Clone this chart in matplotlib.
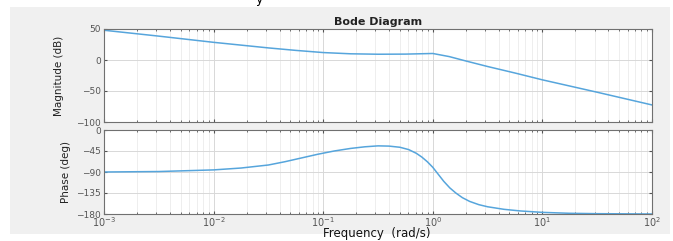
import matplotlib.pyplot as plt
from matplotlib.patches import Rectangle
from matplotlib.ticker import LogLocator, NullFormatter, FixedLocator
import numpy as np

# values (log10 of frequency in rad/s)
mag_logw = [-3, -2.5, -2, -1.5, -1.25, -1, -0.75, -0.5, -0.25, 0,
            0.15, 0.3, 0.5, 0.75, 1, 1.5, 2]
mag_db = [48, 38.5, 28.5, 19.5, 15.5, 12, 10, 9.3, 9.5, 10.5,
          5.5, -1.5, -10.5, -21, -32, -52, -72.5]

ph_logw = [-3, -2.5, -2, -1.75, -1.5, -1.35, -1.2, -1.05, -0.9, -0.75, -0.62,
           -0.5, -0.4, -0.3, -0.22, -0.15, -0.1, -0.05, 0, 0.05, 0.1, 0.155,
           0.21, 0.27, 0.336, 0.42, 0.5, 0.65, 0.8, 1, 1.25, 1.5, 2]
ph_deg = [-90, -89, -85.5, -81.5, -75, -68, -60, -52, -45, -39.5, -36,
          -34, -34.5, -37, -42, -50, -58, -68, -80, -95, -110, -124,
          -135, -145, -153, -160, -164.5, -170, -173.5, -176.5, -178.5, -179.3, -180]

mag_ticks = [50, 0, -50, -100]
ph_ticks = [0, -45, -90, -135, -180]
x_ticks = [1e-3, 1e-2, 1e-1, 1e0, 1e1, 1e2]
x_labels = [r'$10^{-3}$', r'$10^{-2}$', r'$10^{-1}$', r'$10^{0}$', r'$10^{1}$', r'$10^{2}$']

line_col = '#56a5dc'
tick_col = '#555555'

fig = plt.figure(figsize=(6.73, 2.41), dpi=100)
fig.patch.set_facecolor('white')
fig.patches.append(Rectangle((10 / 673, 1 - 234 / 241), 660 / 673, 227 / 241,
                             transform=fig.transFigure, facecolor='#f0f0f0',
                             edgecolor='none', zorder=-10))

ax1 = fig.add_axes([104 / 673, 1 - 122 / 241, 548 / 673, 93 / 241])
ax2 = fig.add_axes([104 / 673, 1 - 214 / 241, 548 / 673, 84 / 241])

ax1.plot(10 ** np.array(mag_logw), mag_db, color=line_col, lw=1.1)
ax2.plot(10 ** np.array(ph_logw), ph_deg, color=line_col, lw=1.1)

for ax in (ax1, ax2):
    ax.set_xscale('log')
    ax.set_xlim(1e-3, 1e2)
    ax.set_facecolor('white')
    ax.xaxis.set_major_locator(FixedLocator(x_ticks))
    ax.xaxis.set_minor_locator(LogLocator(base=10, subs=np.arange(2, 10), numticks=20))
    ax.xaxis.set_minor_formatter(NullFormatter())
    ax.grid(True, which='major', color='#d8d8d8', lw=0.7)
    ax.grid(True, which='minor', axis='x', color='#e8e8e8', lw=0.5)
    ax.tick_params(which='both', direction='in', top=True, right=True,
                   colors=tick_col, labelsize=6.5, length=2.5, pad=2)
    ax.tick_params(which='minor', length=1.5)
    for s in ax.spines.values():
        s.set_color('#707070')
        s.set_linewidth(0.8)
    ax.set_axisbelow(True)

ax1.set_ylim(-100, 50)
ax1.set_yticks(mag_ticks)
ax1.set_xticklabels([])
ax1.set_ylabel('Magnitude (dB)', fontsize=7.5, color='#222222', labelpad=9,
               family=['Liberation Sans Narrow', 'DejaVu Sans'])
ax1.set_title('Bode Diagram', fontsize=8, fontweight='bold', color='#222222', pad=3)

ax2.set_ylim(-180, 0)
ax2.set_yticks(ph_ticks)
ax2.set_xticklabels(x_labels)
ax2.tick_params(axis='x', pad=1, labelsize=7)
ax2.set_ylabel('Phase (deg)', fontsize=7.5, color='#222222', labelpad=4,
               family=['Liberation Sans Narrow', 'DejaVu Sans'])

fig.text(377 / 673, 1 - 234 / 241, 'Frequency  (rad/s)', ha='center', va='center',
         fontsize=8.5, color='#111111')
fig.text(259 / 673, 1 + 1 / 241, 'y', ha='center', va='center', fontsize=9, color='black')

fig.savefig('out.png', dpi=100)
